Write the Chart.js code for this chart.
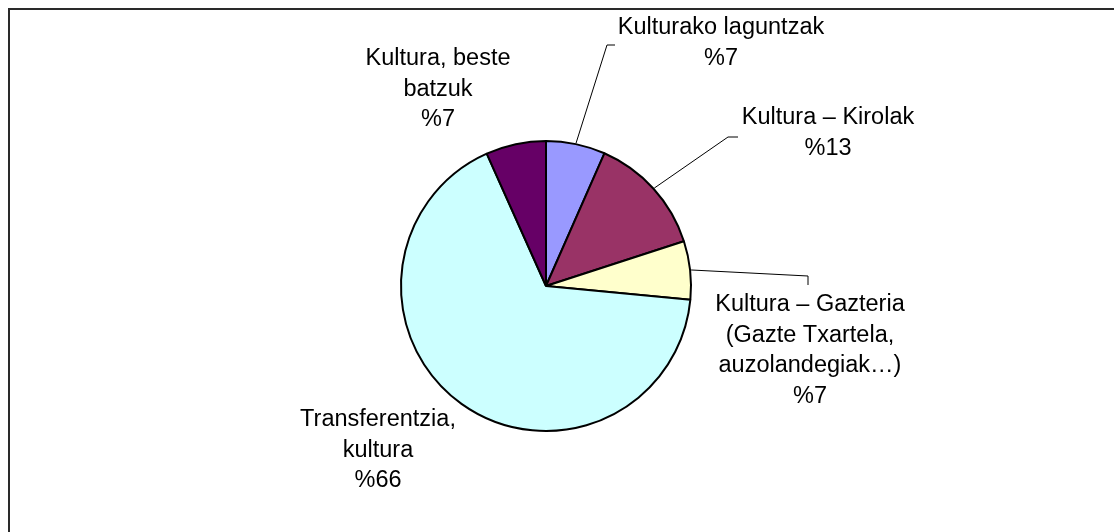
<!DOCTYPE html>
<html>
<head>
<meta charset="utf-8">
<script src="https://cdn.jsdelivr.net/npm/chart.js@4/dist/chart.umd.min.js"></script>
<style>
  html, body { margin: 0; padding: 0; background: #fff; overflow: hidden; }
  #wrap { position: relative; width: 1114px; height: 532px; }
  #frame {
    position: absolute; left: 8px; top: 8px; width: 1200px; height: 600px;
    border-top: 2px solid #2a2a2a; border-left: 2px solid #2a2a2a;
  }
  #pie { position: absolute; left: 0; top: 0; }
</style>
</head>
<body>
<div id="wrap">
  <div id="frame"></div>
  <canvas id="pie" width="1114" height="532"></canvas>
</div>
<script>
// === DATA ===
var CATEGORIES = [
  ['Kulturako laguntzak'],
  ['Kultura – Kirolak'],
  ['Kultura – Gazteria', '(Gazte Txartela,', 'auzolandegiak…)'],
  ['Transferentzia,', 'kultura'],
  ['Kultura, beste', 'batzuk']
];
var VALUES      = [6.6, 13.4, 6.5, 66.8, 6.7];
var PCT_LABELS  = ['%7', '%13', '%7', '%66', '%7'];
var COLORS      = ['#9999FF', '#993366', '#FFFFCC', '#CCFFFF', '#660066'];

// label placement (text centre, first line) and leader elbows
var LABEL_POS = [
  { x: 721, y: 28,  leader: [[607, 45], [615, 45]] },
  { x: 828, y: 118, leader: [[728, 137], [738, 137]] },
  { x: 810, y: 305, leader: [[808, 276], [808, 285]] },
  { x: 378, y: 420, leader: null },
  { x: 438, y: 59,  leader: null }
];
var LINE_H = 30.5;
var FONT   = '23.5px "Liberation Sans", Arial, sans-serif';

var labelPlugin = {
  id: 'pieLabels',
  afterDraw: function (chart) {
    var ctx  = chart.ctx;
    var arcs = chart.getDatasetMeta(0).data;
    ctx.save();
    arcs.forEach(function (arc, i) {
      var p   = arc.getProps(['x', 'y', 'startAngle', 'endAngle', 'outerRadius'], true);
      var mid = (p.startAngle + p.endAngle) / 2;
      var pos = LABEL_POS[i];
      if (pos.leader) {
        ctx.beginPath();
        ctx.strokeStyle = '#000';
        ctx.lineWidth = 1;
        ctx.moveTo(p.x + Math.cos(mid) * (p.outerRadius + 1), p.y + Math.sin(mid) * (p.outerRadius + 1));
        pos.leader.forEach(function (pt) { ctx.lineTo(pt[0], pt[1]); });
        ctx.stroke();
      }
      var lines = CATEGORIES[i].concat([PCT_LABELS[i]]);
      ctx.fillStyle = '#000';
      ctx.font = FONT;
      ctx.textAlign = 'center';
      ctx.textBaseline = 'middle';
      lines.forEach(function (t, k) { ctx.fillText(t, pos.x, pos.y + k * LINE_H); });
    });
    ctx.restore();
  }
};

new Chart(document.getElementById('pie').getContext('2d'), {
  type: 'pie',
  data: {
    labels: CATEGORIES.map(function (c) { return c.join(' '); }),
    datasets: [{
      data: VALUES,
      backgroundColor: COLORS,
      borderColor: '#000',
      borderWidth: 2
    }]
  },
  options: {
    responsive: false,
    animation: false,
    layout: { padding: { left: 400, right: 422, top: 140, bottom: 100 } },
    plugins: {
      legend:  { display: false },
      tooltip: { enabled: false }
    }
  },
  plugins: [labelPlugin]
});
</script>
</body>
</html>
